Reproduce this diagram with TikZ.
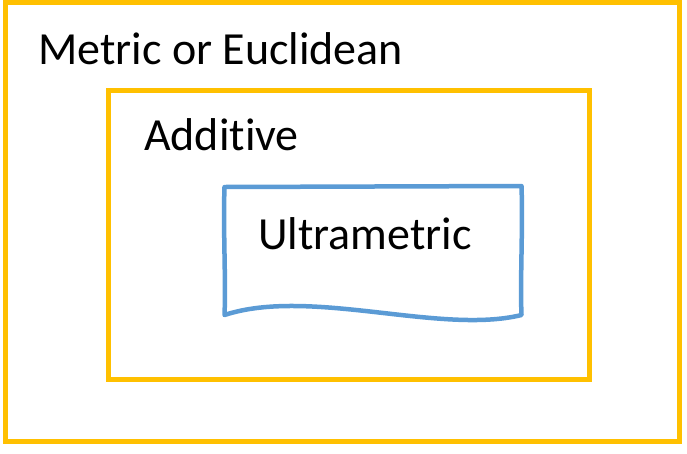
\documentclass[tikz,border=0pt]{standalone}
\usepackage{fontspec}
\setmainfont{Carlito}[Ligatures=NoCommon]
\definecolor{gold}{HTML}{FFC000}
\definecolor{bluel}{HTML}{5B9BD5}
\begin{document}
\begin{tikzpicture}[x=1pt,y=-1pt,
  setbox/.style={draw=gold,line width=5pt},
  lbl/.style={anchor=base west,inner sep=0pt,font=\fontsize{46}{55}\selectfont}]
\useasboundingbox (0,0) rectangle (687,453);
\draw[setbox] (5,2.5) rectangle (679.5,441.5);
\draw[setbox] (108.5,90.5) rectangle (589,379.5);
\draw[draw=bluel,line width=4.5pt,line join=round]
  (224.5,187) -- (521.5,186) .. controls (523,230) and (520,280) .. (521.5,315)
  .. controls (440,335) and (310,287) .. (224.5,315)
  .. controls (226,280) and (223,230) .. cycle;
\node[lbl] (metric) at (38,64) {Metric or Euclidean};
\node[lbl] (add) at (144,150) {Additive};
\node[lbl] (ultra) at (258,249) {Ultrametric};
\end{tikzpicture}
\end{document}
